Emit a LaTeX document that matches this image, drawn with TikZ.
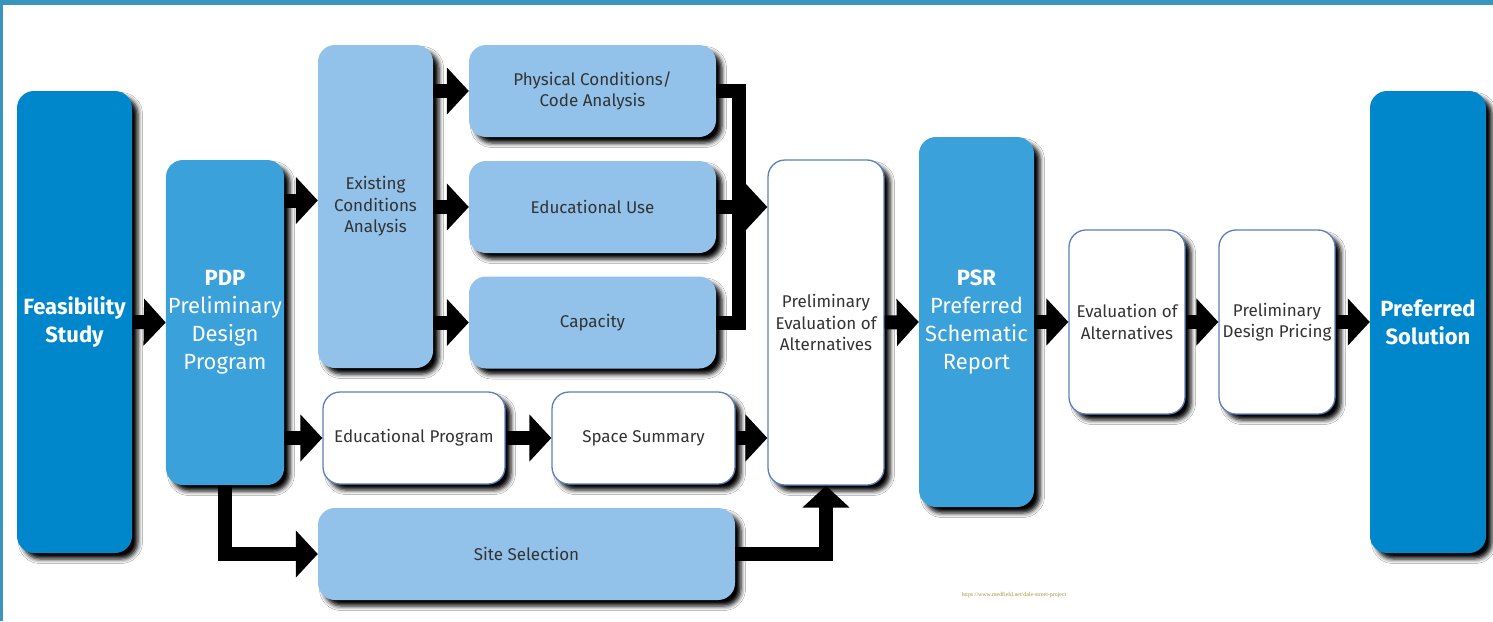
\documentclass[tikz,border=0pt]{standalone}
\usepackage{fontspec}
\setmainfont{Fira Sans}
\newfontfamily\urlfont{Liberation Serif}
\usetikzlibrary{arrows.meta,shadows.blur}
\definecolor{darkblue}{HTML}{0086CB}
\definecolor{midblue}{HTML}{3BA1DA}
\definecolor{lightblue}{HTML}{92C2E9}
\definecolor{edgeblue}{HTML}{5B7EC0}
\definecolor{framecol}{HTML}{3A95BE}
\definecolor{txtgray}{HTML}{333333}
\definecolor{urlcol}{HTML}{9A9A40}
\tikzset{
  shade box/.style={rounded corners=17pt, inner sep=2pt, align=center,
    blur shadow={shadow xshift=6pt, shadow yshift=-6pt, shadow blur radius=4.5pt, shadow opacity=100}},
  darkbox/.style={shade box, fill=darkblue, text=white, font=\fontsize{22}{28}\selectfont\bfseries},
  midbox/.style={shade box, fill=midblue, text=white, font=\fontsize{22}{28}\selectfont},
  lightbox/.style={shade box, fill=lightblue, text=txtgray, font=\fontsize{17}{21.5}\selectfont},
  whitebox/.style={shade box, fill=white, draw=edgeblue, line width=1.3pt, text=txtgray, font=\fontsize{17}{21.5}\selectfont},
  flow/.style={line width=14pt, black, line join=miter, -{Triangle[width=46pt,length=22pt]}},
  bar/.style={line width=14pt, black, line join=miter},
}
\begin{document}
\begin{tikzpicture}[x=1pt, y=-1pt]
\useasboundingbox (0,0) rectangle (1493,621);
\fill[white] (0,0) rectangle (1493,621);
% frame
\fill[framecol] (0,0) rectangle (1493,5);
\fill[framecol] (0,0) rectangle (3,621);

% nodes
\node[darkbox, minimum width=115pt, minimum height=462pt] (feas) at (74.5,322) {Feasibility\\Study};
\node[midbox, minimum width=116pt, minimum height=325pt] (pdp) at (225,322.5) {\textbf{PDP}\\Preliminary\\Design\\Program};
\node[lightbox, minimum width=115pt, minimum height=323pt] (eca) at (375.5,206.5) {Existing\\Conditions\\Analysis};
\node[lightbox, minimum width=247pt, minimum height=92pt] (phys) at (592.5,91) {Physical Conditions/\\Code Analysis};
\node[lightbox, minimum width=247pt, minimum height=92pt] (edu) at (592.5,207) {Educational Use};
\node[lightbox, minimum width=247pt, minimum height=92pt] (cap) at (592.5,322.5) {Capacity};
\node[whitebox, minimum width=182pt, minimum height=92pt] (eprog) at (414,438) {Educational Program};
\node[whitebox, minimum width=183pt, minimum height=92pt] (space) at (643.5,438) {Space Summary};
\node[lightbox, minimum width=417pt, minimum height=92pt] (site) at (526.5,554) {Site Selection};
\node[whitebox, minimum width=116pt, minimum height=325pt] (pea) at (826,322.5) {Preliminary\\Evaluation of\\Alternatives};
\node[midbox, minimum width=115pt, minimum height=370pt] (psr) at (976.5,322) {\textbf{PSR}\\Preferred\\Schematic\\Report};
\node[whitebox, minimum width=116pt, minimum height=184pt] (evalt) at (1127,322) {Evaluation of\\Alternatives};
\node[whitebox, minimum width=116pt, minimum height=184pt] (pdpr) at (1277,322) {Preliminary\\Design Pricing};
\node[darkbox, minimum width=116pt, minimum height=462pt] (pref) at (1428,322) {Preferred\\Solution};
\node[text=urlcol, font=\urlfont\fontsize{5.9}{6.5}\selectfont, inner sep=0pt] (url) at (1014,595) {https://www.medfield.net/dale-street-project};

% connectors
\draw[flow] (feas.east) -- (pdp.west);
\draw[flow] (pdp.east |- eca.east) ++(0,-6) coordinate (p1) (p1) -- (eca.west |- p1);
\draw[flow] (pdp.east |- eprog.west) -- (eprog.west);
\draw[flow] (pdp.south) |- (site.west);
\draw[flow] (eca.east |- phys.west) -- (phys.west);
\draw[flow] (eca.east |- edu.west) -- (edu.west);
\draw[flow] (eca.east |- cap.west) -- (cap.west);
\coordinate (bx) at (739,0);
\draw[bar] (phys.east) -| (bx |- edu.east) |- (cap.east);
\draw[flow] (edu.east) -- (pea.west |- edu.east);
\draw[flow] (eprog.east) -- (space.west);
\draw[flow] (space.east) -- (pea.west |- space.east);
\draw[flow] (site.east) -| (pea.south);
\draw[flow] (pea.east) -- (psr.west);
\draw[flow] (psr.east) -- (evalt.west);
\draw[flow] (evalt.east) -- (pdpr.west);
\draw[flow] (pdpr.east) -- (pref.west);
\end{tikzpicture}
\end{document}
